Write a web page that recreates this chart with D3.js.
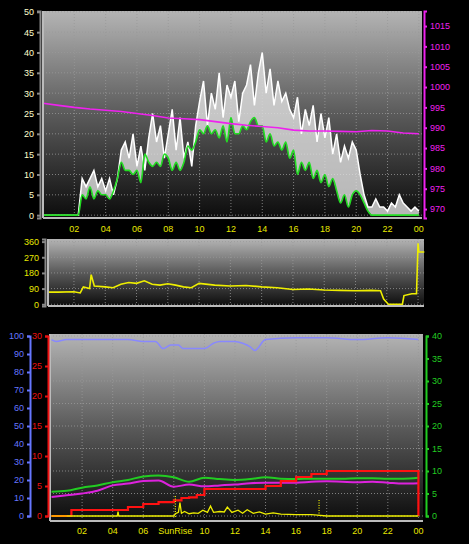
<!DOCTYPE html>
<html><head><meta charset="utf-8">
<script src="https://cdn.jsdelivr.net/npm/d3@7"></script>
<style>body{margin:0;background:#000}svg{display:block}text{font-family:"Liberation Sans",Arial,sans-serif;font-size:9px}</style>
</head><body><svg id="c" width="469" height="544"></svg>
<script>
// ---- data ----
const hourTicks=[2,4,6,8,10,12,14,16,18,20,22,24];
const hourLabels=["02","04","06","08","10","12","14","16","18","20","22","00"];
// wind gust (15-min steps from 00:00)
const gust=[0,0,0,0, 0,0,0,0, 0,0,9,7, 9,11,7,9, 6,9,5,9, 16,18,14,20, 12,17,11,19, 25,18,22,14,
 20,26,16,24, 14,18,12,22, 28,33,22,30, 26,35,24,32, 29,33,23,30, 32,37,27,35, 40,30,36,27, 33,28,30,26,
 24,29,20,26, 22,27,18,25, 19,24,15,20, 13,17,14,18, 16,10,5,2, 2,4,2,2, 1,3,2,5, 3,2,1,2, 1];
// average wind
const wind=[0,0,0,0, 0,0,0,0, 0,0,5,4, 7,4,6,5, 5,4,6,9, 13,11,11,10, 11,8,15,13, 12,13,12,15,
 14,11,13,11, 13,17,16,18, 21,20,22,20, 21,19,22,18, 24,20,20,22, 21,23,24,22, 22,18,20,17, 18,16,18,14,
 16,10,13,11, 13,9,11,8, 10,7,9,6, 3,5,2,5, 6,5,3,1, 0,0,0,0, 0,0,0,0, 0,0,0,0, 0];
// pressure hourly
const pressure=[996,995.5,995,994.6,994.3,994,993.5,993,992.4,992.2,992,991.5,991,990.6,990.3,990,989.4,989.2,989.2,989.1,989,989.3,989.2,988.7,988.5];
// wind direction [hour, deg]
const dirT=[0.35,1,2,2.4,2.6,3,3.1,3.3,4,4.5,5,5.5,6,6.5,7,7.5,8,8.5,9,9.5,10,11,12,13,14,15,16,17,18,19,20,21,21.6,21.8,22.1,23,23.1,23.6,23.9,24,24.05,24.4];
const dirV=[70,70,72,65,100,90,170,105,100,95,115,125,120,135,115,110,118,110,100,95,120,110,105,108,100,95,85,88,82,80,78,80,78,30,0,0,50,60,60,350,300,300];
// humidity
const humT=[0,0.3,1,2,3,4,5,6,6.8,7.3,7.8,8.3,8.6,9,10,10.6,11,12,12.5,13,13.3,14,16,18,20,22,24];
const humV=[98,97,98,98,98,98,98,97,97,93,95,95,93,93,93,96,97,97,96,94,92,98,99,99,98,99,98];
// rain cumulative (mm) step
const rainT=[0,1,1.3,4.5,5,6,7,8,8.5,9,9.5,10,13.5,14,15,16,17,18,24,24];
const rainV=[0,0,1,1,1.5,2,2.3,2.6,3,3.1,3.5,4.5,4.5,5,5.8,6.5,7,7.5,7.5,0];
// temperature and dewpoint (hourly)
const temp=[5.4,5.6,6.3,6.8,7.5,8,8.8,9,8.6,7.6,8.5,8.2,8,8.2,8.6,8.3,8.2,8.3,8.3,8.3,8.4,8.4,8.3,8.3,8.5];
const dew=[4.2,4.6,5,5.6,6.8,7.2,7.8,7.9,6.5,7,6.6,6.8,7,7.3,7.4,7.4,7.4,7.6,7.7,7.6,7.5,7.6,7.4,7.2,7.3];
// solar (small spikes)
const solarT=[0,4.3,4.35,4.4,8,8.1,8.3,8.4,8.5,8.7,9,9.3,9.6,9.9,10.2,10.4,10.6,11,11.3,11.5,11.8,12.2,12.5,12.8,13.2,13.6,14,14.5,15,16,17,17.4,18,24];
const solarV=[0,0,1,0,0,0.5,0.8,3,0.6,1,0.5,0.7,0.6,1.3,0.8,2.2,0.8,1,0.9,2,0.8,1.3,0.6,1.4,0.6,0.9,0.4,0.7,0.4,0.3,0.3,0.2,0,0];
const sunriseH=8.1, sunsetH=17.5;

const svg=d3.select("#c");
const defs=svg.append("defs");
const g=defs.append("linearGradient").attr("id","bg").attr("x1",0).attr("y1",0).attr("x2",0).attr("y2",1);
g.append("stop").attr("offset","0%").attr("stop-color","#b4b4b4");
g.append("stop").attr("offset","50%").attr("stop-color","#5a5a5a");
g.append("stop").attr("offset","100%").attr("stop-color","#0c0c0c");

function panel(x0,x1,y0,y1){
  svg.append("rect").attr("x",x0).attr("y",y0).attr("width",x1-x0).attr("height",y1-y0).attr("fill","url(#bg)");
}
function vgrid(x,y0,y1){
  hourTicks.forEach(h=>svg.append("line").attr("x1",x(h)).attr("x2",x(h)).attr("y1",y0).attr("y2",y1)
   .attr("stroke","#999").attr("stroke-dasharray","1,2").attr("stroke-width",0.8));
}
function hgrid(ys,x0,x1){
  ys.forEach(y=>svg.append("line").attr("x1",x0).attr("x2",x1).attr("y1",y).attr("y2",y)
   .attr("stroke","#999").attr("stroke-dasharray","1,2").attr("stroke-width",0.8));
}
function yAxis(sc,xpos,ticks,color,orient,lineColor){
  const ax=(orient==="left"?d3.axisLeft(sc):d3.axisRight(sc)).tickValues(ticks).tickSize(3).tickFormat(d3.format("d"));
  const a=svg.append("g").attr("transform",`translate(${xpos},0)`).call(ax);
  a.select(".domain").attr("stroke",lineColor).attr("stroke-width",2);
  a.selectAll(".tick line").attr("stroke",lineColor).attr("stroke-width",2);
  a.selectAll("text").attr("fill",color);
  return a;
}
function xLabels(x,y,skip){
  hourTicks.forEach((h,i)=>{ if(skip!==undefined && h===skip) return;
    svg.append("text").attr("x",x(h)).attr("y",y).attr("text-anchor","middle").attr("fill","#e8e800").text(hourLabels[i]);});
}

// ---- panel 1 ----
const x1=d3.scaleLinear().domain([0,24.2]).range([43,422]);
const yW=d3.scaleLinear().domain([-0.7,50.2]).range([218,11]);
const yP=d3.scaleLinear().domain([967.8,1018.7]).range([218,11]);
panel(43,422,11,218);
vgrid(x1,11,218);
hgrid(d3.range(0,51,5).map(yW),43,422);
svg.append("path").datum(gust).attr("fill","rgba(225,225,225,0.8)")
 .attr("d",d3.area().x((d,i)=>x1(i*0.25)).y0((d,i)=>yW(wind[i])).y1(d=>yW(d)));
svg.append("path").datum(gust).attr("fill","none").attr("stroke","#fff").attr("stroke-width",1.5)
 .attr("d",d3.line().x((d,i)=>x1(i*0.25)).y(d=>yW(d)));
svg.append("path").datum(wind).attr("fill","none").attr("stroke","#22dd22").attr("stroke-width",1.6)
 .attr("d",d3.line().x((d,i)=>x1(i*0.25)).y(d=>yW(d)).curve(d3.curveMonotoneX));
svg.append("path").datum(pressure).attr("fill","none").attr("stroke","#ee22ee").attr("stroke-width",1.6)
 .attr("d",d3.line().x((d,i)=>x1(i)).y(d=>yP(d)));
svg.append("line").attr("x1",43).attr("x2",422).attr("y1",218).attr("y2",218).attr("stroke","#bbb").attr("stroke-width",2);
svg.append("line").attr("x1",43).attr("x2",43).attr("y1",11).attr("y2",218).attr("stroke","#bbb").attr("stroke-width",2);
yAxis(yW,40,d3.range(0,51,5),"#ffffcc","left","#888");
yAxis(yP,424,d3.range(970,1016,5),"#ee22ee","right","#ee22ee");
xLabels(x1,232);

// ---- panel 2 ----
const x2=d3.scaleLinear().domain([0.34,24.38]).range([48,424]);
const yD=d3.scaleLinear().domain([-10,375]).range([306,239]);
panel(48,424,239,306);
vgrid(x2,239,306);
hgrid([0,90,180,270,360].map(yD),48,424);
svg.append("path").datum(dirT).attr("fill","none").attr("stroke","#eeee00").attr("stroke-width",1.6)
 .attr("d",d3.line().x(d=>x2(d)).y((d,i)=>yD(dirV[i])));
svg.append("line").attr("x1",48).attr("x2",424).attr("y1",306).attr("y2",306).attr("stroke","#bbb").attr("stroke-width",2);
svg.append("line").attr("x1",48).attr("x2",48).attr("y1",239).attr("y2",306).attr("stroke","#bbb").attr("stroke-width",2);
yAxis(yD,45,[0,90,180,270,360],"#e8e800","left","#888");

// ---- panel 3 ----
const x3=d3.scaleLinear().domain([-0.1,24.3]).range([50,423]);
const yH=d3.scaleLinear().domain([0,100]).range([516,336]);
const yR=d3.scaleLinear().domain([0,30]).range([516,336]);
const yT=d3.scaleLinear().domain([0,40]).range([516,336]);
panel(50,423,334,521);
vgrid(x3,334,521);
hgrid(d3.range(0,41,5).map(yT),50,423);
svg.append("path").datum(humT).attr("fill","none").attr("stroke","#8888ff").attr("stroke-width",1.5)
 .attr("d",d3.line().x(d=>x3(d)).y((d,i)=>yH(humV[i])).curve(d3.curveMonotoneX));
svg.append("path").datum(temp).attr("fill","none").attr("stroke","#22cc22").attr("stroke-width",2)
 .attr("d",d3.line().x((d,i)=>x3(i)).y(d=>yT(d)).curve(d3.curveMonotoneX));
svg.append("path").datum(dew).attr("fill","none").attr("stroke","#dd22dd").attr("stroke-width",2)
 .attr("d",d3.line().x((d,i)=>x3(i)).y(d=>yT(d)).curve(d3.curveMonotoneX));
svg.append("path").datum(rainT).attr("fill","none").attr("stroke","#ff1111").attr("stroke-width",2.2)
 .attr("d",d3.line().x(d=>x3(d)).y((d,i)=>yR(rainV[i])).curve(d3.curveStepAfter));
svg.append("path").datum(solarT).attr("fill","none").attr("stroke","#eeee00").attr("stroke-width",1.3)
 .attr("d",d3.line().x(d=>x3(d)).y((d,i)=>yT(solarV[i])));
svg.append("line").attr("x1",x3(0)).attr("x2",x3(1)).attr("y1",yT(0)).attr("y2",yT(0)).attr("stroke","#ff9900").attr("stroke-width",2);
[[sunriseH,496],[sunsetH,500]].forEach(s=>svg.append("line").attr("x1",x3(s[0])).attr("x2",x3(s[0])).attr("y1",s[1]).attr("y2",517)
 .attr("stroke","#eeee00").attr("stroke-dasharray","1,1.5").attr("stroke-width",1.2));
svg.append("line").attr("x1",50).attr("x2",423).attr("y1",521).attr("y2",521).attr("stroke","#bbb").attr("stroke-width",2);
svg.append("line").attr("x1",50).attr("x2",50).attr("y1",334).attr("y2",521).attr("stroke","#bbb").attr("stroke-width",2);
yAxis(yH,30,d3.range(0,101,10),"#6677ff","left","#6677ff");
yAxis(yR,48,d3.range(0,31,5),"#ee1111","left","#ee1111");
yAxis(yT,426,d3.range(0,41,5),"#22cc22","right","#22cc22");
xLabels(x3,534,8);
svg.append("text").attr("x",x3(sunriseH)).attr("y",534).attr("text-anchor","middle").attr("fill","#e8e800").text("SunRise");
</script></body></html>
